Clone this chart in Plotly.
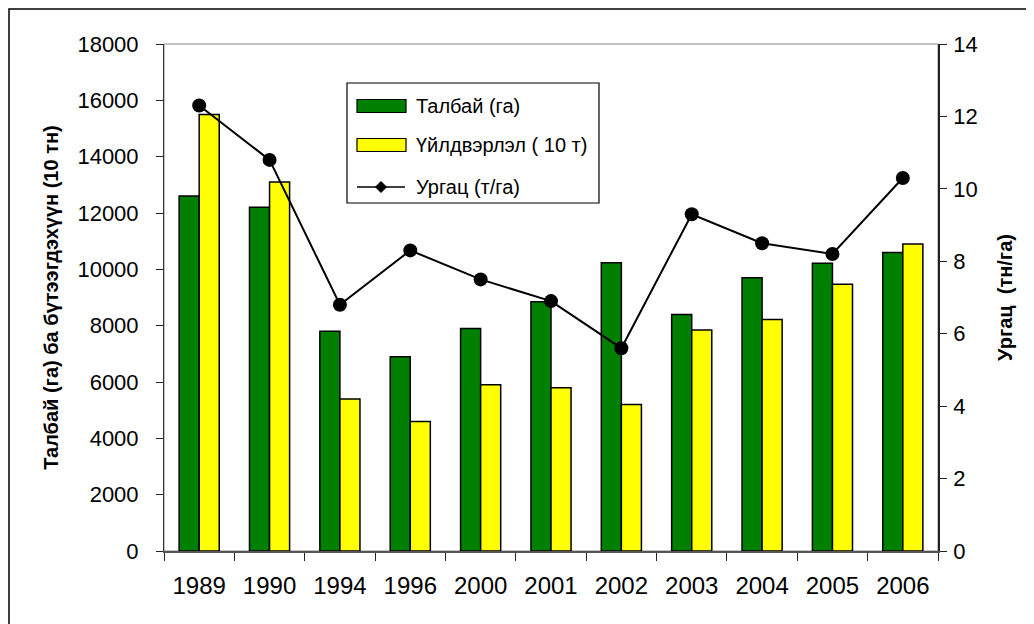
import plotly.graph_objects as go

years = ["1989", "1990", "1994", "1996", "2000", "2001", "2002", "2003", "2004", "2005", "2006"]
area = [12600, 12200, 7800, 6900, 7900, 8850, 10230, 8400, 9700, 10220, 10600]
production = [15500, 13100, 5400, 4600, 5900, 5800, 5200, 7850, 8220, 9470, 10900]
yield_ = [12.3, 10.8, 6.8, 8.3, 7.5, 6.9, 5.6, 9.3, 8.5, 8.2, 10.3]

left_ticks = list(range(0, 18001, 2000))
right_ticks = list(range(0, 15, 2))

names = ["Талбай (га)", "Үйлдвэрлэл ( 10 т)", "Ургац (т/га)"]
colors = ["#008000", "#FFFF00", "black"]

FONT = "Arial, Liberation Sans, sans-serif"

fig = go.Figure()
fig.add_trace(go.Bar(
    x=years, y=area, name=names[0],
    marker=dict(color=colors[0], line=dict(color="black", width=1.5)),
))
fig.add_trace(go.Bar(
    x=years, y=production, name=names[1],
    marker=dict(color=colors[1], line=dict(color="black", width=1.5)),
))
fig.add_trace(go.Scatter(
    x=years, y=yield_, name=names[2], yaxis="y2",
    mode="lines+markers",
    line=dict(color="black", width=2),
    marker=dict(color="black", size=14, symbol="circle"),
))

# page has an 8px body margin; layout below is expressed in page pixels
OFF = 8
W, H = 1034 - OFF, 624 - OFF
PL, PR, PT, PB = 164, 938, 44, 551          # plot area in page pixels
L, T = PL - OFF, PT - OFF
R, B = W - (PR - OFF), H - (PB - OFF)
pw, ph = PR - PL, PB - PT

def px(x):
    return (x - PL) / pw

def py(y):
    return (PB - y) / ph

shapes = [
    dict(type="rect", xref="paper", yref="paper", x0=0, x1=1, y0=0, y1=1,
         line=dict(color="#888", width=1), layer="below"),
    dict(type="rect", xref="paper", yref="paper",
         x0=px(9), x1=px(1045), y0=py(640), y1=py(9),
         line=dict(color="black", width=1.5), layer="below"),
    dict(type="rect", xref="paper", yref="paper",
         x0=px(347), x1=px(599), y0=py(203), y1=py(83),
         line=dict(color="black", width=1.2), fillcolor="white", layer="above"),
]
row_y = [106, 145, 187]
for i in range(2):
    shapes.append(dict(type="rect", xref="paper", yref="paper",
                       x0=px(357), x1=px(406), y0=py(row_y[i] + 6.5), y1=py(row_y[i] - 6.5),
                       line=dict(color="black", width=1.2), fillcolor=colors[i], layer="above"))
shapes.append(dict(type="line", xref="paper", yref="paper",
                   x0=px(357), x1=px(405), y0=py(row_y[2]), y1=py(row_y[2]),
                   line=dict(color="black", width=1.5), layer="above"))
cx, cy, d = 381, row_y[2], 5.5
diamond = "M {} {} L {} {} L {} {} L {} {} Z".format(
    px(cx - d), py(cy), px(cx), py(cy - d), px(cx + d), py(cy), px(cx), py(cy + d))
shapes.append(dict(type="path", xref="paper", yref="paper", path=diamond,
                   line=dict(color="black", width=1), fillcolor="black", layer="above"))

annotations = []
for i, n in enumerate(names):
    annotations.append(dict(text=n, xref="paper", yref="paper", x=px(414), y=py(row_y[i]),
                            xanchor="left", yanchor="middle", showarrow=False,
                            font=dict(family=FONT, size=20, color="black")))

fig.update_layout(
    width=W, height=H,
    margin=dict(l=L, r=R, t=T, b=B, pad=0),
    paper_bgcolor="white", plot_bgcolor="white",
    font=dict(family=FONT, color="black", size=22),
    barmode="group", bargap=0.43, bargroupgap=0,
    showlegend=False,
    xaxis=dict(
        type="category", range=[-0.5, len(years) - 0.5],
        tickson="boundaries", ticks="outside", ticklen=8,
        tickcolor="#222", showline=True, linecolor="#555", linewidth=2,
        showgrid=False, tickfont=dict(size=24), zeroline=False, automargin=False,
        ticklabelstandoff=12,
    ),
    yaxis=dict(
        range=[0, 18000], tickvals=left_ticks, tickformat="d", ticks="outside", ticklen=7,
        tickcolor="#222", showline=True, linecolor="#333", linewidth=1,
        showgrid=False, zeroline=False, tickfont=dict(size=22), automargin=False,
        ticklabelstandoff=13,
        title=dict(text="<b>Талбай (га) ба бүтээгдэхүүн (10 тн)</b>",
                   font=dict(size=20), standoff=13),
    ),
    yaxis2=dict(
        range=[0, 14], tickvals=right_ticks, overlaying="y", side="right",
        ticks="outside", ticklen=7, tickcolor="#222",
        showline=True, linecolor="#222", linewidth=1.5, automargin=False,
        showgrid=False, zeroline=False, tickfont=dict(size=22),
        ticklabelstandoff=2,
        title=dict(text="<b>Ургац  (тн/га)</b>", font=dict(size=20), standoff=21),
    ),
    shapes=shapes,
    annotations=annotations,
)

fig.write_html("out.html")
